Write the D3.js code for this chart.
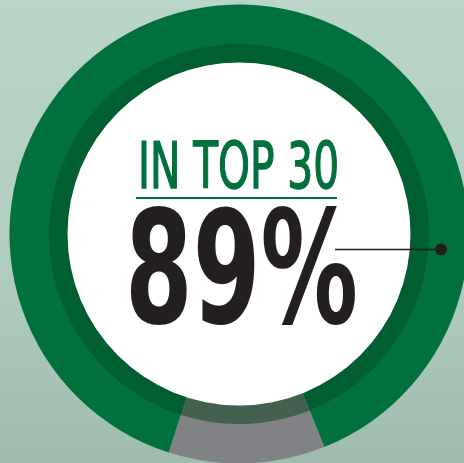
<!DOCTYPE html>
<html>
<head>
<meta charset="utf-8">
<script src="https://cdn.jsdelivr.net/npm/d3@7"></script>
<style>
  html, body { margin: 0; padding: 0; overflow: hidden; }
  svg { display: block; }
</style>
</head>
<body>
<script>
// share of the ring
var categories = ["In top 30", "Other"];
var values = [89, 11];
var colors = ["#00713d", "#808285"];

var headline = "IN TOP 30";
var bigLabel = "89%";

var width = 464;
var height = 463;
var cx = 239;
var cy = 234;

var svg = d3.select("body").append("svg")
    .attr("width", width)
    .attr("height", height);

// background wash
var defs = svg.append("defs");
var grad = defs.append("linearGradient")
    .attr("id", "bg")
    .attr("x1", 0).attr("y1", 0)
    .attr("x2", 0).attr("y2", 1);
grad.append("stop").attr("offset", "0%").attr("stop-color", "#b8d5c8");
grad.append("stop").attr("offset", "55%").attr("stop-color", "#b0cdbf");
grad.append("stop").attr("offset", "100%").attr("stop-color", "#9fbcae");

svg.append("rect")
    .attr("width", width)
    .attr("height", height)
    .attr("fill", "url(#bg)");

var g = svg.append("g")
    .attr("transform", "translate(" + cx + "," + cy + ")");

// grey piece sits a touch right of the bottom
var greyShare = values[1] / 100 * 360;
var greyStart = (180 - greyShare / 2 - 2) * Math.PI / 180;
var start = greyStart + values[1] / 100 * 2 * Math.PI;

var pie = d3.pie()
    .sort(null)
    .startAngle(start)
    .endAngle(start + 2 * Math.PI);

var arcs = pie(values);

var outerArc = d3.arc().innerRadius(171).outerRadius(229.5);
var innerShade = d3.arc().innerRadius(171).outerRadius(190);

g.selectAll("path.slice")
    .data(arcs)
    .enter()
    .append("path")
    .attr("class", "slice")
    .attr("d", outerArc)
    .attr("fill", function(d, i) {
        return colors[i];
    });

// darker inner band on top of both slices
g.selectAll("path.shade")
    .data(arcs)
    .enter()
    .append("path")
    .attr("class", "shade")
    .attr("d", innerShade)
    .attr("fill", function(d, i) {
        return i == 0 ? "#005f30" : "#44614f";
    });

// white centre
g.append("circle")
    .attr("r", 171.5)
    .attr("fill", "#ffffff");

// headline
svg.append("text")
    .text(headline)
    .attr("x", 138)
    .attr("y", 188)
    .attr("fill", "#00713d")
    .attr("stroke", "#00713d")
    .attr("stroke-width", 1.4)
    .attr("font-family", "'Liberation Sans Narrow', 'DejaVu Sans Condensed', sans-serif")
    .attr("font-size", "64px")
    .attr("textLength", 201)
    .attr("lengthAdjust", "spacingAndGlyphs");

svg.append("line")
    .attr("x1", 136)
    .attr("x2", 337)
    .attr("y1", 198)
    .attr("y2", 198)
    .attr("stroke", "#00713d")
    .attr("stroke-width", 2);

// big number
svg.append("text")
    .text(bigLabel)
    .attr("x", 125)
    .attr("y", 323)
    .attr("fill", "#231f20")
    .attr("font-family", "'Liberation Sans Narrow', 'DejaVu Sans Condensed', sans-serif")
    .attr("font-weight", "bold")
    .attr("font-size", "156px")
    .attr("textLength", 233)
    .attr("lengthAdjust", "spacingAndGlyphs");

// pointer
svg.append("line")
    .attr("x1", 335)
    .attr("x2", 441)
    .attr("y1", 249.5)
    .attr("y2", 249.5)
    .attr("stroke", "#231f20")
    .attr("stroke-width", 1.5);

svg.append("circle")
    .attr("cx", 441)
    .attr("cy", 249.5)
    .attr("r", 6)
    .attr("fill", "#231f20");
</script>
</body>
</html>
